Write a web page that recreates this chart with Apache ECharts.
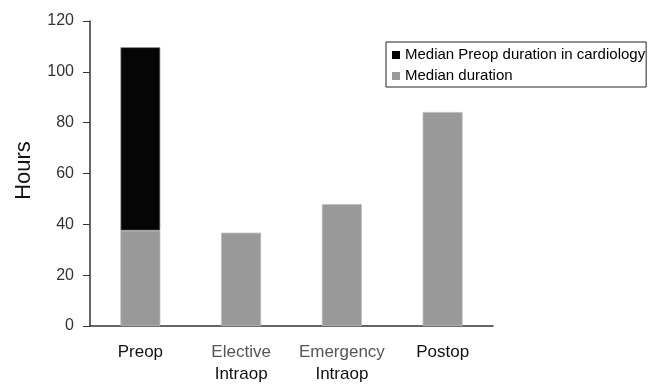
<!DOCTYPE html>
<html>
<head>
<meta charset="utf-8">
<script src="https://cdn.jsdelivr.net/npm/echarts@6/dist/echarts.min.js"></script>
<style>html,body{margin:0;padding:0;background:#fff}#c{width:657px;height:385px}</style>
</head>
<body>
<div id="c"></div>
<script>
var categories = ['Preop', 'Elective\nIntraop', 'Emergency\nIntraop', 'Postop'];
var medianDuration = [37.5, 36.7, 48, 84.2];
var cardiologyExtra = [72.2, '-', '-', '-'];
var yTicks = [0, 20, 40, 60, 80, 100, 120];

var FONT = '"Liberation Sans", Arial, sans-serif';
var chart = echarts.init(document.getElementById('c'), null, {renderer: 'canvas'});
chart.setOption({
  animation: false,
  backgroundColor: '#fff',
  grid: {left: 90, right: 164, top: 21, bottom: 59},
  legend: {
    orient: 'vertical',
    left: 386, top: 42,
    padding: [5, 1, 3, 6],
    itemGap: 5,
    itemWidth: 8, itemHeight: 8,
    borderColor: '#222', borderWidth: 1,
    icon: 'rect',
    itemStyle: {borderWidth: 0},
    data: ['Median Preop duration in cardiology', 'Median duration'],
    textStyle: {fontFamily: FONT, fontSize: 15, color: '#000', lineHeight: 16}
  },
  xAxis: {
    type: 'category',
    data: categories,
    axisLine: {lineStyle: {color: '#333', width: 1.5}},
    axisTick: {show: false},
    axisLabel: {
      margin: 15,
      interval: 0,
      formatter: function (v) {
        var p = v.split('\n');
        if (p.length === 2) return '{g|' + p[0] + '}\n{b|' + p[1] + '}';
        return '{b|' + v + '}';
      },
      rich: {
        g: {fontFamily: FONT, fontSize: 17, color: '#555', lineHeight: 22},
        b: {fontFamily: FONT, fontSize: 17, color: '#111', lineHeight: 22}
      }
    }
  },
  yAxis: {
    type: 'value',
    min: yTicks[0], max: yTicks[yTicks.length - 1], interval: 20,
    name: 'Hours',
    nameLocation: 'middle',
    nameGap: 55,
    nameTextStyle: {fontFamily: FONT, fontSize: 22, color: '#111', padding: [0, 0, 0, 6]},
    axisLine: {show: true, lineStyle: {color: '#333', width: 1.5}},
    axisTick: {show: true, length: 7, lineStyle: {color: '#333'}},
    splitLine: {show: false},
    axisLabel: {margin: 16, fontFamily: FONT, fontSize: 16, color: '#333'}
  },
  series: [
    {
      name: 'Median duration', type: 'bar', stack: 's', barWidth: 40,
      data: medianDuration,
      itemStyle: {color: '#999999', borderColor: '#bdbdbd', borderWidth: 0.8}
    },
    {
      name: 'Median Preop duration in cardiology', type: 'bar', stack: 's', barWidth: 40,
      data: cardiologyExtra,
      itemStyle: {color: '#050505', borderColor: '#9a9a9a', borderWidth: 0.8}
    }
  ]
});
</script>
</body>
</html>
